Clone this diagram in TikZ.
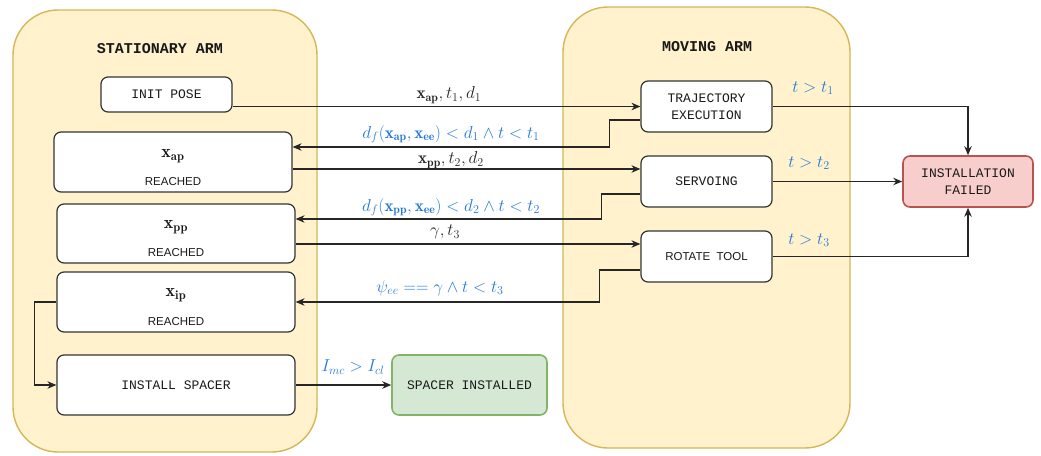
\documentclass[tikz,border=0pt]{standalone}
\usepackage{fontspec}
\usepackage{amsmath}
\setmonofont{Liberation Mono}
\setsansfont{Liberation Sans}
\usetikzlibrary{arrows.meta,calc}
\definecolor{contfill}{HTML}{FFF2CC}
\definecolor{contdraw}{HTML}{D6B656}
\definecolor{failfill}{HTML}{F8CECC}
\definecolor{faildraw}{HTML}{B85450}
\definecolor{okfill}{HTML}{D5E8D4}
\definecolor{okdraw}{HTML}{82B366}
\definecolor{labblue}{RGB}{35,120,215}
\definecolor{boxtext}{HTML}{1A1A1A}
\tikzset{
  container/.style={draw=contdraw, fill=contfill, line width=1.4pt, rounded corners=45pt, inner sep=0pt},
  statebox/.style={draw=black!80, fill=white, line width=1.2pt, rounded corners=7pt, inner sep=0pt, align=center,
     text=boxtext, font=\fontsize{13}{17}\selectfont\ttfamily},
  failbox/.style={statebox, draw=faildraw, fill=failfill, line width=1.6pt},
  okbox/.style={statebox, draw=okdraw, fill=okfill, line width=1.6pt},
  title/.style={font=\fontsize{15}{18}\selectfont\ttfamily\bfseries, text=black!90},
  sublab/.style={font=\fontsize{11.5}{14}\selectfont\sffamily, text=boxtext},
  mathlab/.style={font=\fontsize{18}{21}\selectfont, text=black!90},
  lab/.style={font=\fontsize{17}{20}\selectfont, text=black!85, inner sep=0pt},
  blab/.style={font=\fontsize{17}{20}\selectfont, text=labblue, inner sep=0pt},
  arr/.style={draw=black!85, line width=1.2pt, -{Stealth[length=9pt,width=7.5pt]}},
}
\begin{document}
\begin{tikzpicture}[x=1pt,y=-1pt]
\useasboundingbox (0,0) rectangle (1041,455);
% containers
\node[container, minimum width=304pt, minimum height=442pt] (left) at (165,231) {};
\node[container, minimum width=287pt, minimum height=441pt] (right) at (706.5,227.5) {};
\node[title] (t1) at (160,49) {STATIONARY ARM};
\node[title] (t2) at (707,47) {MOVING ARM};
% left states
\node[statebox, minimum width=131pt, minimum height=35pt] (init) at (166.5,94.5) {INIT POSE};
\node[statebox, minimum width=238pt, minimum height=60pt] (xap) at (173,162) {};
\node[statebox, minimum width=238pt, minimum height=59pt] (xpp) at (176,233.5) {};
\node[statebox, minimum width=238pt, minimum height=60pt] (xip) at (176,302) {};
\node[statebox, minimum width=238pt, minimum height=60pt] (inst) at (176,385) {INSTALL SPACER};
\node[mathlab] (xapm) at ($(xap.north)+(0,25)$) {$\mathbf{x}_{\mathbf{ap}}$};
\node[sublab] (xapr) at ($(xap.north)+(0,50)$) {REACHED};
\node[mathlab] (xppm) at ($(xpp.north)+(0,24)$) {$\mathbf{x}_{\mathbf{pp}}$};
\node[sublab] (xppr) at ($(xpp.north)+(0,49)$) {REACHED};
\node[mathlab] (xipm) at ($(xip.north)+(0,24)$) {$\mathbf{x}_{\mathbf{ip}}$};
\node[sublab] (xipr) at ($(xip.north)+(0,50)$) {REACHED};
% right states
\node[statebox, minimum width=131pt, minimum height=51pt] (traj) at (706.5,106.5) {TRAJECTORY\\EXECUTION};
\node[statebox, minimum width=131pt, minimum height=51pt] (serv) at (706.5,181.5) {SERVOING};
\node[statebox, minimum width=131pt, minimum height=51pt, font=\fontsize{11.5}{14}\selectfont\sffamily] (rot) at (706.5,256.5) {ROTATE\ \ TOOL};
\node[failbox, minimum width=130pt, minimum height=51pt] (fail) at (968,181.5) {INSTALLATION\\FAILED};
\node[okbox, minimum width=155pt, minimum height=60pt] (spins) at (469.5,385) {SPACER INSTALLED};
% connectors
\draw[arr] (init.east |- traj.west) -- (traj.west);
\draw[arr] ($(traj.west)+(0,13.5)$) -- ++(-31,0) |- ($(xap.east)+(0,-15)$);
\draw[arr] ($(xap.east)+(0,7)$) -- ($(serv.west)+(0,-12.5)$);
\draw[arr] ($(serv.west)+(0,12.5)$) -- ++(-39,0) |- ($(xpp.east)+(0,-14.5)$);
\draw[arr] ($(xpp.east)+(0,10.5)$) -- ($(rot.west)+(0,-12.5)$);
\draw[arr] ($(rot.west)+(0,13.5)$) -- ++(-41,0) |- (xip.east);
\draw[arr] (xip.west) -- ++(-22,0) |- (inst.west);
\draw[arr] (inst.east) -- (spins.west);
\draw[arr] (traj.east) -| (fail.north);
\draw[arr] (serv.east) -- (fail.west);
\draw[arr] (rot.east) -| (fail.south);
% labels
\node[lab] (l1) at (449,95) {$\mathbf{x}_{\mathbf{ap}}, t_1, d_1$};
\node[blab] (l2) at (451,134) {$d_f(\mathbf{x}_{\mathbf{ap}}, \mathbf{x}_{\mathbf{ee}}) < d_1 \wedge t < t_1$};
\node[lab] (l3) at (451,160) {$\mathbf{x}_{\mathbf{pp}}, t_2, d_2$};
\node[blab] (l4) at (451,207) {$d_f(\mathbf{x}_{\mathbf{pp}}, \mathbf{x}_{\mathbf{ee}}) < d_2 \wedge t < t_2$};
\node[lab] (l5) at (445,232) {$\gamma, t_3$};
\node[blab] (l6) at (440,288) {$\psi_{ee} == \gamma \wedge t < t_3$};
\node[blab] (l7) at (353,367) {$I_{mc} > I_{cl}$};
\node[blab] (l8) at (813,88) {$t > t_1$};
\node[blab] (l9) at (809,163) {$t > t_2$};
\node[blab] (l10) at (809,240) {$t > t_3$};
\end{tikzpicture}
\end{document}
